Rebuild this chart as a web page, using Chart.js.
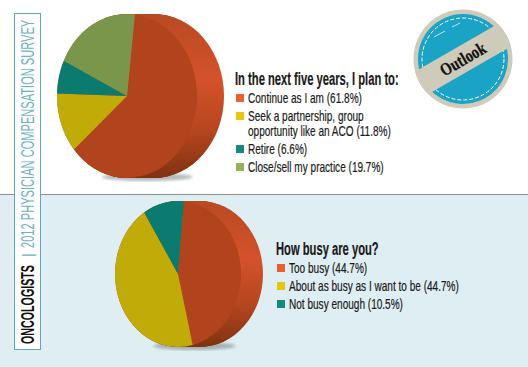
<!DOCTYPE html>
<html>
<head>
<meta charset="utf-8">
<script src="https://cdn.jsdelivr.net/npm/chart.js@4"></script>
<style>
    html, body { margin: 0; padding: 0; background: #fff; }
    #page { position: relative; width: 528px; height: 367px; overflow: hidden; font-family: "Liberation Sans", sans-serif; }
    #lower { position: absolute; left: 0; top: 194px; width: 528px; height: 173px; background: #dfeef2; border-top: 1px solid #8a8f8f; box-sizing: border-box; }
    #strip { position: absolute; left: 14px; top: 13px; width: 27px; height: 337px; border: 1px solid #5fa9b8; box-sizing: border-box; background: #fff; }
    #strip span { position: absolute; left: 4px; white-space: nowrap; font-size: 18px; line-height: 18px; color: #6fb3c0; transform-origin: 0 0; }
    #strip .who { color: #111; font-weight: bold; }
    canvas { position: absolute; }
    .legend { position: absolute; color: #1a1a1a; font-size: 15px; line-height: 15px; -webkit-text-stroke: 0.2px #1a1a1a; }
    .legend h3 { margin: 0; height: 20px; font-size: 17.5px; line-height: 18px; font-weight: bold; color: #1a1a1a; white-space: nowrap; transform-origin: 0 0; transform: scaleX(0.64); }
    .legend div { position: relative; padding-left: 13px; margin-bottom: 3px; }
    .legend span { display: block; white-space: pre; transform-origin: 0 0; transform: scaleX(0.67); }
    .legend i { position: absolute; left: 1px; top: 4px; width: 8px; height: 8px; }
    #badge { position: absolute; left: 405px; top: 0; }
</style>
</head>
<body>
<div id="page">
    <div id="lower"></div>
    <div id="strip">
        <span class="who" data-from="330" data-len="79">ONCOLOGISTS</span>
        <span data-from="243" data-len="0" style="font-size:14px">|</span>
        <span data-from="234" data-len="228">2012 PHYSICIAN COMPENSATION SURVEY</span>
    </div>
    <canvas id="plan-chart"></canvas>
    <canvas id="busy-chart"></canvas>
    <div class="legend" id="plan-legend" style="left:235px;top:70px"></div>
    <div class="legend" id="busy-legend" style="left:276px;top:240px"></div>
    <svg id="badge" width="120" height="115" viewBox="0 0 120 115">
        <defs><clipPath id="disc"><circle cx="58" cy="59" r="49.5"/></clipPath></defs>
        <circle cx="58" cy="59" r="49.5" fill="#cfcbba"/>
        <circle cx="58" cy="59" r="45" fill="#1ba3c6"/>
        <circle cx="58" cy="59" r="41" fill="none" stroke="#fff" stroke-width="1" stroke-dasharray="4 2"/>
        <path d="M29 37 L40 31 M47 27 L55 23" stroke="#bfe6f0" stroke-width="1" fill="none"/>
        <g clip-path="url(#disc)">
            <g transform="rotate(-30 58 59)">
                <rect x="0" y="46" width="116" height="26" fill="#cfcbba"/>
                <text x="58" y="65" text-anchor="middle" font-family="Liberation Serif" font-weight="bold" font-size="18" textLength="50" lengthAdjust="spacingAndGlyphs" fill="#111" stroke="#111" stroke-width="0.3">Outlook</text>
            </g>
        </g>
    </svg>
</div>
<script>
// 计划调查数据
const planTitle = 'In the next five years, I plan to:';
const planLabels = ['Continue as I am', 'Seek a partnership, group\nopportunity like an ACO', 'Retire', 'Close/sell my practice'];
const planValues = [61.8, 11.8, 6.6, 19.7];
const planFaceColors = ['#b1441c', '#c0ab09', '#0b7b6f', '#7a964a'];
const planSwatches = ['#e8602e', '#e6c60f', '#16897e', '#93b35a'];

// 忙碌程度数据
const busyTitle = 'How busy are you?';
const busyLabels = ['Too busy', 'About as busy as I want to be', 'Not busy enough'];
const busyValues = [44.7, 44.7, 10.5];
const busyFaceColors = ['#b1441c', '#c0ab09', '#0b7b6f'];
const busySwatches = ['#e8602e', '#e6c60f', '#16897e'];

// 把圆饼压成椭圆，并在后面画出厚度
const squashPie = {
    id: 'squashPie',
    beforeDatasetsDraw(chart, args, opts) {
        const arc = chart.getDatasetMeta(0).data[0];
        const ctx = chart.ctx;
        const rx = arc.outerRadius * opts.ratio;
        const ry = arc.outerRadius;

        // 底部阴影
        ctx.save();
        ctx.fillStyle = 'rgba(90, 100, 100, 0.45)';
        ctx.filter = 'blur(1.5px)';
        ctx.beginPath();
        ctx.ellipse(arc.x + opts.depth * 0.75, arc.y + ry - 1, rx * 0.65, 4, 0, 0, Math.PI * 2);
        ctx.fill();
        ctx.restore();

        // 侧面
        const side = ctx.createLinearGradient(0, arc.y - ry, 0, arc.y + ry);
        side.addColorStop(0, '#b84a22');
        side.addColorStop(0.4, '#d4522a');
        side.addColorStop(0.72, '#b4451f');
        side.addColorStop(1, '#7f3210');
        ctx.save();
        ctx.fillStyle = side;
        for (let i = 0; i <= opts.depth; i++) {
            ctx.beginPath();
            ctx.ellipse(arc.x + i, arc.y, rx, ry, 0, 0, Math.PI * 2);
            ctx.fill();
        }
        ctx.restore();

        ctx.save();
        ctx.translate(arc.x, 0);
        ctx.scale(opts.ratio, 1);
        ctx.translate(-arc.x, 0);
    },
    afterDatasetsDraw(chart) {
        chart.ctx.restore();
    }
};

function buildLegend(id, title, labels, values, swatches) {
    const box = document.getElementById(id);
    const heading = document.createElement('h3');
    heading.textContent = title;
    box.appendChild(heading);
    labels.forEach((label, i) => {
        const row = document.createElement('div');
        const text = document.createElement('span');
        text.textContent = `${label} (${values[i]}%)`;
        const mark = document.createElement('i');
        mark.style.background = swatches[i];
        row.appendChild(text);
        row.appendChild(mark);
        box.appendChild(row);
    });
}

function createPie(id, box, labels, values, colors, rotation, ratio, depth) {
    const canvas = document.getElementById(id);
    canvas.style.left = box.left + 'px';
    canvas.style.top = box.top + 'px';
    canvas.width = box.width;
    canvas.height = box.height;
    return new Chart(canvas.getContext('2d'), {
        type: 'pie',
        data: {
            labels: labels,
            datasets: [{ data: values, backgroundColor: colors, borderWidth: 0 }]
        },
        options: {
            responsive: false,
            animation: false,
            rotation: rotation,
            layout: { padding: 4 },
            plugins: {
                legend: { display: false },
                tooltip: { enabled: false },
                squashPie: { ratio: ratio, depth: depth }
            }
        },
        plugins: [squashPie]
    });
}

// 竖排文字：旋转后按目标长度压缩
document.querySelectorAll('#strip span').forEach(el => {
    const len = Number(el.dataset.len);
    const scale = len ? len / el.offsetWidth : 1;
    el.style.top = el.dataset.from + 'px';
    el.style.transform = `rotate(-90deg) scaleX(${scale})`;
});

buildLegend('plan-legend', planTitle, planLabels, planValues, planSwatches);
buildLegend('busy-legend', busyTitle, busyLabels, busyValues, busySwatches);

createPie('plan-chart', { left: 20, top: 10, width: 214, height: 172 }, planLabels, planValues, planFaceColors, 6.5, 70 / 82, 27);
createPie('busy-chart', { left: 88, top: 197, width: 180, height: 154 }, busyLabels, busyValues, busyFaceColors, 5.4, 63 / 73, 22);
</script>
</body>
</html>
